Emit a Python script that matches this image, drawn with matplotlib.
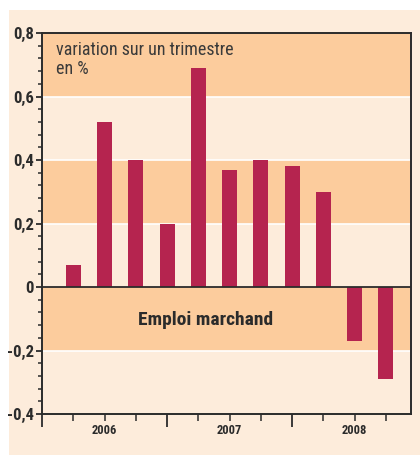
import matplotlib
matplotlib.use("Agg")
import matplotlib.pyplot as plt
from matplotlib.patches import Rectangle
from matplotlib.ticker import MultipleLocator, FixedLocator, NullFormatter

# quarterly variation, 2006 Q2 .. 2008 Q4
quarters = list(range(1, 12))
values = [0.07, 0.52, 0.40, 0.20, 0.69, 0.37, 0.40, 0.38, 0.30, -0.17, -0.29]
years = ['2006', '2007', '2008']
year_pos = [2, 6, 10]
yticks = [-0.4, -0.2, 0, 0.2, 0.4, 0.6, 0.8]
bands = [(0.6, 0.8), (0.2, 0.4), (-0.2, 0.0)]

font = ['Roboto Condensed', 'Liberation Sans Narrow', 'Roboto', 'DejaVu Sans']
light = '#fdecdb'
dark_band = '#fccc9d'
bar_col = '#b5244f'
ink = '#2b2b2b'

fig = plt.figure(figsize=(4.2, 4.55), dpi=100)
fig.patch.set_facecolor('white')
fig.patches.append(Rectangle((9 / 420, 0), 1, (455 - 10) / 455, transform=fig.transFigure,
                             facecolor=light, edgecolor='none', zorder=-10))

ax = fig.add_axes([42 / 420, 41 / 455, 369 / 420, 381 / 455])
ax.set_zorder(5)
ax.set_facecolor(light)
ax.set_xlim(0, 369 / 31.25)
ax.set_ylim(-0.4, 0.8)

for lo, hi in bands:
    ax.axhspan(lo, hi, facecolor=dark_band, edgecolor='none', zorder=0)
for y in [-0.2, 0.2, 0.4, 0.6]:
    ax.axhline(y, color='white', lw=1.2, zorder=1)

ax.bar(quarters, values, width=0.48, color=bar_col, zorder=2)
ax.axhline(0, color=ink, lw=1.3, zorder=3)

for s in ax.spines.values():
    s.set_color(ink)
    s.set_linewidth(1.4)

ax.yaxis.set_major_locator(FixedLocator(yticks))
ax.yaxis.set_minor_locator(MultipleLocator(0.04))
ax.set_yticklabels([f'{t:.1f}'.replace('.', ',') if t != 0 else '0' for t in yticks],
                   family=font, fontweight='bold', fontsize=12, color=ink)
ax.tick_params(axis='y', which='major', length=4, width=1.3, color=ink, pad=2)
ax.tick_params(axis='y', which='minor', length=3, width=1.1, color=ink)

ax.xaxis.set_major_locator(FixedLocator([0, 4, 8]))
ax.xaxis.set_minor_locator(FixedLocator(quarters))
ax.xaxis.set_major_formatter(NullFormatter())
ax.tick_params(axis='x', which='major', length=9, width=1.3, color=ink)
ax.tick_params(axis='x', which='minor', length=5, width=1.1, color=ink)
for yr, xp in zip(years, year_pos):
    ax.text(xp, -0.452, yr, ha='center', va='center', family=font, fontweight='bold',
            fontsize=9, color=ink)

ax.text(0.45, 0.776, 'variation sur un trimestre\nen %', ha='left', va='top',
        family=font, fontsize=13, color='#3a3a3a', linespacing=1.12)
ax.text(5.25, -0.105, 'Emploi marchand', ha='center', va='center', family=font,
        fontweight='bold', fontsize=14, color=ink)

fig.savefig('out.png', dpi=100)
